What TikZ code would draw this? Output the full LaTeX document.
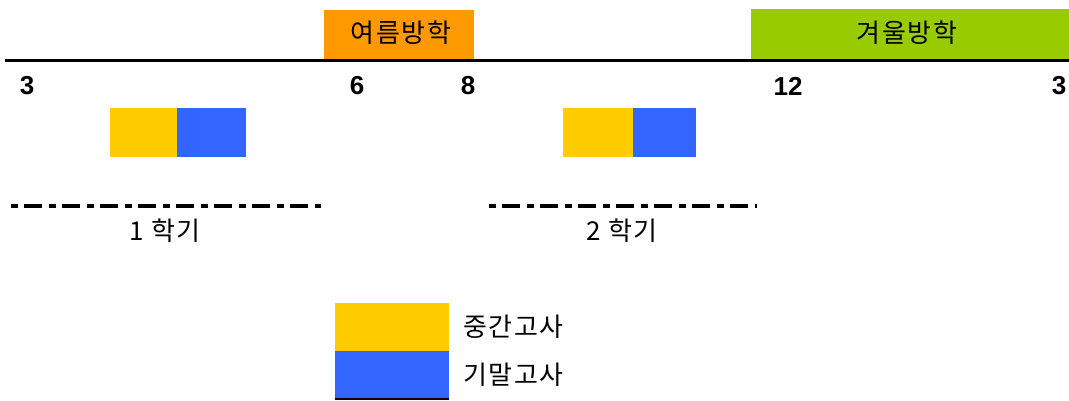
\documentclass[tikz,border=0pt]{standalone}
\usepackage{fontspec}
\setmainfont{Liberation Sans}
\newfontfamily\kr[LetterSpace=6]{Noto Sans CJK KR}
\definecolor{vacorange}{HTML}{FF9900}
\definecolor{vacgreen}{HTML}{99CC00}
\definecolor{midyellow}{HTML}{FFCC00}
\definecolor{finblue}{HTML}{3366FF}
\begin{document}
\begin{tikzpicture}[x=1pt,y=-1pt,
  krtext/.style={font=\kr\fontsize{26}{30}\selectfont, text=black, inner sep=0pt},
  numtext/.style={font=\bfseries\fontsize{26}{30}\selectfont, inner sep=0pt},
  semline/.style={line width=4.5pt, dash pattern=on 7pt off 6pt on 18pt off 7pt}]
\useasboundingbox (0,0) rectangle (1069,400);
% vacations
\fill[vacorange] (324,10) rectangle (474,59);
\node[krtext] (summer) at (401,33) {여름방학};
\fill[vacgreen] (751,9) rectangle (1069,59);
\node[krtext] (winter) at (907,33) {겨울방학};
% timeline
\coordinate (tl0) at (5,60);
\coordinate (tl1) at (1069,60);
\draw[line width=3pt] (tl0) -- (tl1);
% months
\node[numtext] (m3a) at (27,86) {3};
\node[numtext] (m6) at (357,86) {6};
\node[numtext] (m8) at (468,86) {8};
\node[numtext] (m12) at (788,86) {12};
\node[numtext] (m3b) at (1059,86) {3};
% exams sem 1
\fill[midyellow] (110,108) rectangle (177,157);
\fill[finblue] (177,108) rectangle (246,157);
% exams sem 2
\fill[midyellow] (563,108) rectangle (633,157);
\fill[finblue] (633,108) rectangle (696,157);
% semesters
\coordinate (s1a) at (11,206);
\coordinate (s1b) at (321,206);
\draw[semline] (s1a) -- (s1b);
\node[krtext] (sem1) at (165,231) {1 학기};
\coordinate (s2a) at (489,206);
\coordinate (s2b) at (757,206);
\draw[semline] (s2a) -- (s2b);
\node[krtext] (sem2) at (622,231) {2 학기};
% legend
\fill[midyellow] (335,303) rectangle (449,351);
\fill[finblue] (335,351) rectangle (449,399);
\draw[line width=1.5pt] (335,399) -- (449,399);
\node[krtext, anchor=west] (lmid) at (463,327) {중간고사};
\node[krtext, anchor=west] (lfin) at (463,375) {기말고사};
\end{tikzpicture}
\end{document}
